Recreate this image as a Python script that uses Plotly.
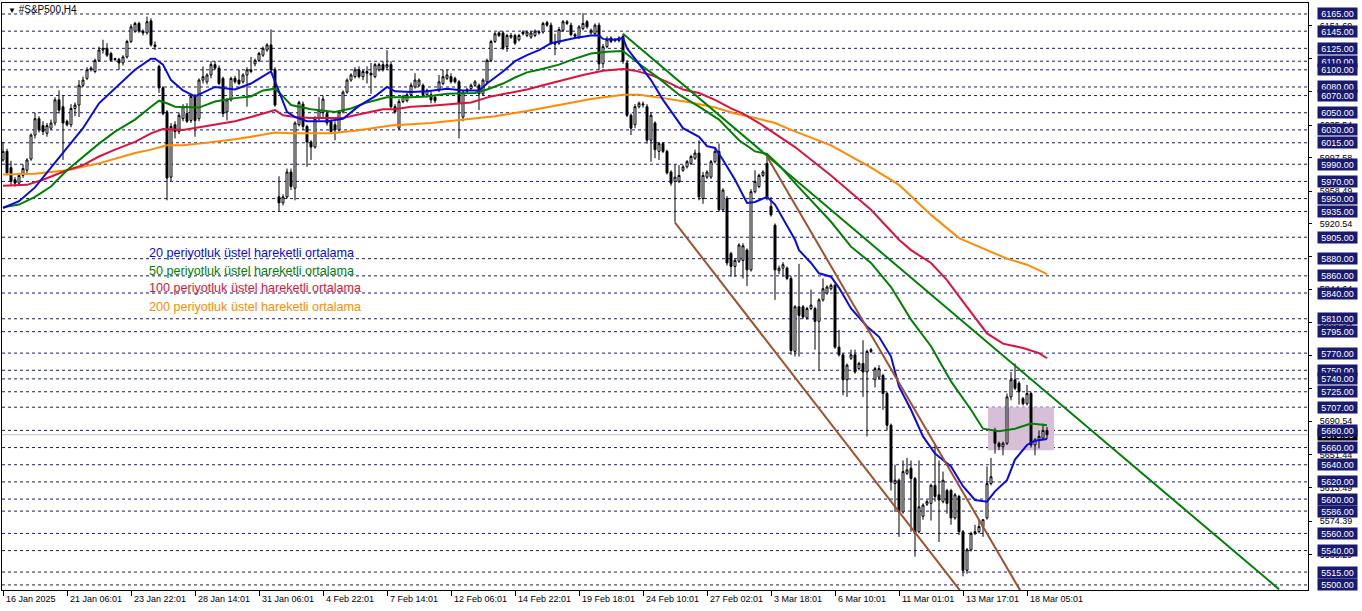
import plotly.graph_objects as go

# ---------------- data ----------------
opens = [5995,6005,5986,5972,5968,5977,5983,5996,6024,6043, 6035,6026,6032,6038,6065,6057,6040,6036,6055,6059,
         6082,6090,6100,6098,6111,6123,6125,6119,6113,6112, 6108,6115,6133,6145,6154,6145,6143,6157,6129,6104,
         6079,6051,5975,6036,6028,6043,6049,6041,6070,6043, 6088,6086,6094,6106,6102,6090,6051,6065,6090,6088,
         6086,6094,6098,6107,6111,6117,6123,6129,6100,5952, 5945,5952,5981,5962,6036,6060,6034,6016,6010,6043,
         6050,6049,6040,6036,6030,6051,6074,6088,6092,6100, 6092,6098,6096,6092,6100,6106,6103,6106,6057,6032,
         6063,6064,6071,6080,6082,6082,6071,6071,6068,6076, 6084,6090,6092,6090,6086,6045,6075,6078,6082,6082,
         6072,6086,6111,6133,6143,6143,6127,6138,6140,6135, 6144,6140,6138,6140,6143,6144,6155,6152,6131,6131,
         6146,6154,6152,6141,6138,6148,6156,6143,6142,6152, 6107,6127,6137,6134,6134,6139,6108,6047,6036,6057,
         6059,6057,6018,6038,6005,6014,6005,5981,5970,5970, 5983,5987,5991,5997,6003,5950,5975,5975,5993,6005,
         5937,5950,5886,5871,5877,5878,5890,5867,5958,5964, 5977,5991,5941,5919,5866,5869,5869,5857,5772,5824,
         5824,5811,5822,5822,5807,5832,5840,5845,5849,5777, 5768,5739,5764,5768,5752,5758,5748,5772,5739,5742,
         5744,5723,5686,5618,5622,5585,5630,5636,5624,5562, 5580,5594,5595,5616,5605,5597,5610,5610,5578,5603,
         5562,5517,5541,5560,5562,5568,5578,5618,5680,5665, 5661,5665,5719,5739,5735,5717,5711,5723,5663,5669,
         5671,5680]
highs = [6016,6008,5994,5975,5980,5990,5997,6026,6050,6046, 6040,6038,6042,6068,6076,6070,6042,6060,6062,6088,
         6092,6103,6104,6113,6127,6135,6131,6121,6114,6114, 6117,6135,6153,6156,6156,6147,6162,6160,6133,6106,
         6081,6053,6038,6040,6050,6060,6061,6071,6072,6090, 6104,6096,6110,6110,6105,6092,6067,6092,6093,6100,
         6096,6103,6115,6113,6121,6127,6131,6147,6103,5976, 5955,5985,5985,6040,6064,6063,6036,6018,6046,6068,
         6070,6052,6042,6040,6053,6076,6090,6096,6103,6104, 6100,6104,6108,6108,6108,6110,6123,6110,6060,6066,
         6071,6073,6085,6096,6090,6084,6078,6075,6071,6094, 6100,6100,6096,6092,6088,6076,6079,6084,6088,6084,
         6090,6113,6135,6144,6145,6145,6142,6143,6142,6142, 6146,6146,6145,6147,6146,6156,6157,6155,6142,6150,
         6158,6158,6155,6143,6152,6166,6158,6148,6154,6155, 6130,6139,6139,6137,6139,6142,6111,6049,6060,6063,
         6063,6060,6050,6040,6016,6016,6007,5983,5990,5989, 5989,5995,6001,6007,6018,5981,5983,5995,6009,6014,
         5962,5953,5888,5880,5898,5898,5892,5961,5983,5979, 5983,5999,5952,5921,5872,5876,5871,5860,5826,5874,
         5826,5824,5844,5824,5834,5857,5849,5851,5851,5797, 5770,5758,5774,5774,5760,5785,5774,5776,5754,5756,
         5746,5725,5688,5640,5624,5645,5648,5645,5626,5645, 5595,5599,5618,5663,5645,5632,5612,5612,5607,5605,
         5564,5543,5562,5570,5576,5576,5638,5648,5683,5667, 5667,5723,5748,5758,5737,5719,5733,5725,5671,5680,
         5688,5684]
lows = [5993,5977,5966,5964,5965,5974,5980,5994,6020,6027, 6024,6022,6030,6035,6049,5995,6034,6033,6046,6045,
        6080,6088,6098,6096,6109,6119,6115,6110,6110,6100, 6105,6113,6131,6143,6143,6140,6141,6127,6123,6073,
        6047,5948,5970,6020,6025,6040,6038,6038,6022,6040, 6084,6083,6090,6100,6082,6045,6041,6063,6084,6082,
        6084,6057,6096,6104,6109,6115,6121,6098,6057,5935, 5942,5950,5960,5948,6034,6030,5987,5995,6008,6041,
        6043,6035,6026,6018,6028,6049,6072,6086,6090,6090, 6088,6084,6072,6090,6098,6098,6100,6055,6049,6030,
        6061,6062,6069,6078,6080,6069,6068,6061,6061,6074, 6082,6088,6084,6084,6020,6040,6072,6076,6080,6053,
        6070,6084,6109,6131,6138,6123,6121,6136,6129,6133, 6140,6138,6136,6138,6141,6142,6150,6129,6117,6129,
        6144,6152,6139,6137,6136,6146,6148,6141,6140,6100, 6102,6125,6131,6132,6132,6107,6045,6024,6032,6055,
        6056,6014,5993,5997,5995,6003,5978,5965,5922,5968, 5981,5985,5989,5995,5948,5944,5973,5973,5991,5935,
        5935,5872,5859,5859,5875,5857,5848,5865,5956,5962, 5975,5948,5929,5832,5862,5859,5855,5768,5766,5766,
        5810,5809,5820,5774,5750,5830,5838,5843,5775,5766, 5721,5719,5762,5746,5750,5719,5673,5770,5730,5739,
        5704,5680,5610,5585,5556,5583,5628,5562,5533,5560, 5576,5592,5575,5597,5550,5595,5583,5570,5576,5558,
        5510,5513,5539,5558,5560,5556,5576,5616,5653,5657, 5651,5663,5715,5727,5710,5709,5709,5660,5651,5659,
        5669,5670]
closes = [6005,5980,5970,5968,5977,5985,5995,6024,6043,6030, 6028,6035,6038,6065,6053,6038,6036,6055,6059,6082,
          6088,6100,6102,6111,6123,6125,6117,6111,6112,6108, 6115,6133,6150,6154,6145,6143,6156,6129,6127,6079,
          6049,5974,6034,6028,6047,6057,6040,6069,6041,6088, 6092,6094,6106,6102,6084,6049,6065,6090,6086,6084,
          6094,6100,6100,6111,6119,6125,6129,6100,6059,5945, 5952,5981,5964,6038,6062,6034,6016,6010,6043,6053,
          6066,6038,6028,6030,6051,6074,6088,6094,6100,6092, 6098,6096,6094,6106,6106,6100,6106,6057,6051,6063,
          6069,6071,6082,6088,6088,6071,6076,6065,6064,6086, 6092,6094,6086,6086,6061,6074,6077,6082,6086,6072,
          6088,6111,6133,6142,6140,6125,6140,6140,6131,6140, 6142,6144,6143,6145,6144,6154,6152,6131,6130,6147,
          6156,6156,6141,6139,6150,6154,6150,6146,6152,6107, 6127,6135,6133,6135,6137,6110,6047,6032,6057,6061,
          6060,6018,6047,6007,6014,6005,5980,5968,5975,5977, 5987,5993,5999,6003,5952,5977,5981,5993,6005,5937,
          5960,5875,5871,5878,5896,5895,5867,5958,5970,5977, 5981,5952,5931,5867,5869,5873,5857,5773,5824,5814,
          5812,5822,5826,5807,5832,5845,5847,5849,5777,5768, 5739,5756,5768,5748,5758,5748,5772,5774,5752,5752,
          5723,5686,5620,5622,5585,5632,5634,5624,5560,5591, 5593,5597,5616,5603,5599,5622,5595,5578,5605,5562,
          5517,5541,5560,5562,5568,5576,5618,5626,5665,5661, 5665,5719,5739,5729,5725,5711,5723,5663,5669,5673,
          5680,5675]
bars = list(range(len(closes)))

# moving averages (bar index, value)
ema20_x = [0,4,8,12,16,20,24,28,33,37,38,40,42,45,48,53,58,62,65,67,69,71,73,76,81,85,89,93,96,98,102,106,111,115,119,
           121,125,128,131,134,137,139,143,147,149,150,153,155,156,159,162,165,168,170,174,176,178,180,183,186,188,191,
           193,195,198,199,202,204,207,209,212,216,219,222,224,227,230,233,237,240,243,246,248,251,253,256,258,261]
ema20_y = [5939,5947,5963,5986,6010,6032,6061,6078,6100,6113,6113,6106,6088,6076,6069,6080,6077,6084,6092,6098,6075,6051,
           6045,6040,6040,6043,6058,6069,6080,6075,6074,6075,6078,6076,6076,6084,6098,6110,6117,6123,6131,6133,6137,6140,
           6140,6136,6135,6137,6125,6107,6088,6065,6045,6032,6022,6011,6009,5995,5972,5945,5946,5952,5943,5927,5902,5890,
           5875,5863,5859,5846,5822,5801,5789,5766,5731,5704,5673,5653,5638,5615,5599,5597,5609,5622,5646,5663,5668,5670]
ema50_x = [0,4,8,12,16,20,24,28,33,37,39,41,43,49,53,58,62,65,68,70,72,77,83,87,91,96,102,106,111,118,121,125,128,131,
           134,139,143,147,151,155,159,164,169,174,179,184,188,191,194,198,202,207,212,217,222,227,232,237,242,245,249,
           253,257,261]
ema50_y = [5940,5943,5952,5964,5983,5999,6014,6028,6042,6057,6064,6061,6057,6056,6063,6067,6069,6076,6078,6069,6059,
           6054,6051,6055,6062,6068,6068,6069,6072,6073,6077,6084,6091,6097,6100,6106,6113,6119,6121,6122,6107,6090,
           6071,6057,6042,6018,6005,6002,5989,5968,5948,5923,5894,5875,5847,5809,5778,5737,5704,5682,5679,5682,5688,5686]
ema100_x = [0,6,10,16,20,24,28,33,37,40,45,49,53,58,62,66,68,70,73,77,85,90,95,98,102,107,112,117,122,127,131,135,140,
            145,150,155,158,162,166,170,174,178,182,185,189,193,198,207,217,224,227,232,236,239,243,246,250,255,259,261]
ema100_y = [5965,5966,5972,5983,5989,5999,6007,6016,6026,6031,6030,6033,6036,6040,6045,6050,6053,6047,6045,6044,6044,
            6049,6054,6054,6057,6058,6060,6062,6069,6073,6077,6082,6088,6094,6099,6101,6099,6094,6086,6077,6073,6065,
            6055,6049,6038,6026,6010,5977,5937,5902,5890,5875,5855,5836,5812,5793,5781,5776,5770,5764]
ema200_x = [0,8,16,24,33,37,41,45,49,53,58,62,66,68,72,82,88,97,107,115,123,131,139,147,155,159,165,172,178,183,188,
            193,197,207,217,224,232,239,246,251,256,261]
ema200_y = [5978,5979,5983,5991,6003,6007,6012,6012,6014,6016,6019,6022,6025,6027,6026,6026,6029,6035,6038,6042,6046,
            6052,6059,6066,6071,6071,6067,6062,6056,6049,6044,6038,6030,6012,5986,5966,5931,5904,5890,5880,5873,5862]

# trend lines (anchor bar index, price)
trend_green_x, trend_green_y = [155, 319], [6142, 5495]
trend_brown1_x, trend_brown1_y = [168, 241], [5922, 5483]
trend_brown2_x, trend_brown2_y = [191, 255], [5999, 5488]
# rectangle
rect_x, rect_y = [246.25, 262.75], [5657, 5707]
bid_price = 5675.00

# horizontal level lines with price labels
levels = [6165, 6145, 6125, 6110, 6100, 6080, 6070, 6050, 6030, 6015, 5990, 5970, 5950, 5935, 5905, 5880,
          5860, 5840, 5810, 5795, 5770, 5750, 5740, 5725, 5707, 5680, 5660, 5640, 5620, 5600, 5586, 5560,
          5540, 5515, 5500]
axis_ticks = [5535.29, 5574.39, 5613.49, 5651.44, 5690.54, 5728.49, 5767.59, 5805.54, 5844.64, 5882.59,
              5920.54, 5958.49, 5997.58, 6035.54, 6074.64, 6112.59, 6151.69]
time_tick_bars = [0, 16, 32, 48, 64, 80, 96, 112, 128, 144, 160, 176, 192, 208, 224, 240, 256]
time_tick_labels = ["16 Jan 2025", "21 Jan 06:01", "23 Jan 22:01", "28 Jan 14:01", "31 Jan 06:01",
                    "4 Feb 22:01", "7 Feb 14:01", "12 Feb 06:01", "14 Feb 22:01", "19 Feb 18:01",
                    "24 Feb 10:01", "27 Feb 02:01", "3 Mar 18:01", "6 Mar 10:01", "11 Mar 01:01",
                    "13 Mar 17:01", "18 Mar 05:01"]
legend_texts = ["20 periyotluk üstel hareketli ortalama", "50 periyotluk üstel hareketli ortalama",
                "100 periyotluk üstel hareketli ortalama", "200 periyotluk üstel hareketli ortalama"]

# ---------------- styles ----------------
NAVY = "#191970"
C20, C50, C100, C200 = "#0a0ae6", "#008000", "#dc143c", "#ff8c00"
BROWN = "#a0522d"
FONT = "Liberation Sans"

fig = go.Figure()

fig.add_trace(go.Candlestick(
    x=bars, open=opens, high=highs, low=lows, close=closes,
    increasing=dict(line=dict(color="black", width=1), fillcolor="white"),
    decreasing=dict(line=dict(color="black", width=1), fillcolor="black"),
    whiskerwidth=0, hoverinfo="skip", showlegend=False))

for xs, ys, col in [(ema200_x, ema200_y, C200), (ema100_x, ema100_y, C100),
                    (ema50_x, ema50_y, C50), (ema20_x, ema20_y, C20)]:
    fig.add_trace(go.Scatter(x=xs, y=ys, mode="lines", line=dict(color=col, width=2),
                             hoverinfo="skip", showlegend=False))

for xs, ys, col in [(trend_green_x, trend_green_y, C50), (trend_brown1_x, trend_brown1_y, BROWN),
                    (trend_brown2_x, trend_brown2_y, BROWN)]:
    fig.add_trace(go.Scatter(x=xs, y=ys, mode="lines", line=dict(color=col, width=2),
                             hoverinfo="skip", showlegend=False))

shapes = [dict(type="rect", xref="x", yref="y", x0=rect_x[0], x1=rect_x[1], y0=rect_y[0], y1=rect_y[1],
               fillcolor="#d8bfd8", line=dict(width=0), layer="below")]
for lv in levels:
    shapes.append(dict(type="line", xref="paper", yref="y", x0=0, x1=1, y0=lv, y1=lv,
                       line=dict(color=NAVY, width=1, dash="3px,3px"), layer="below"))
shapes.append(dict(type="line", xref="paper", yref="y", x0=0, x1=1, y0=bid_price, y1=bid_price,
                   line=dict(color="#c0c0c0", width=1), layer="below"))

annotations = []
# current price label (under the level labels)
annotations.append(dict(xref="paper", yref="y", x=1, y=bid_price, xanchor="left", yanchor="middle", xshift=9,
                        text=f"{bid_price:.2f}", showarrow=False, bgcolor="black",
                        font=dict(family=FONT, size=9, color="white"), width=37, height=9, borderpad=1))
for lv in levels:
    annotations.append(dict(xref="paper", yref="y", x=1, y=lv, xanchor="left", yanchor="middle", xshift=9,
                            text=f"{lv:.2f}", showarrow=False, bgcolor=NAVY,
                            font=dict(family=FONT, size=9, color="white"), width=37, height=9, borderpad=1))
for tb, tl in zip(time_tick_bars, time_tick_labels):
    annotations.append(dict(xref="x", yref="paper", x=tb, y=0, xanchor="left", yanchor="top", xshift=1, yshift=-2,
                            text=tl, showarrow=False, font=dict(family=FONT, size=9, color="black")))
for k, (txt, col) in enumerate(zip(legend_texts, [C20, C50, C100, C200])):
    annotations.append(dict(xref="paper", yref="paper", x=0.111, y=[0.574, 0.5434, 0.5145, 0.4821][k],
                            xanchor="left", yanchor="middle", text=txt, showarrow=False,
                            font=dict(family=FONT, size=12.6, color=col)))
annotations.append(dict(xref="paper", yref="paper", x=0.003, y=0.989, xanchor="left", yanchor="middle",
                        text="<span style='font-size:8px'>▼</span> #S&P500,H4", showarrow=False,
                        font=dict(family=FONT, size=10, color="black")))

fig.update_layout(
    width=1362, height=611, margin=dict(l=2, r=54, t=3, b=21),
    paper_bgcolor="white", plot_bgcolor="white",
    shapes=shapes, annotations=annotations, showlegend=False,
    xaxis=dict(range=[-0.25, 326.25], showgrid=False, zeroline=False, rangeslider=dict(visible=False),
               showline=True, linecolor="black", linewidth=1, mirror=True,
               tickmode="array", tickvals=time_tick_bars, showticklabels=False,
               ticks="outside", ticklen=5, tickcolor="black", fixedrange=True),
    yaxis=dict(range=[5494.1, 6177.8], side="right", showgrid=False, zeroline=False,
               showline=True, linecolor="black", linewidth=1, mirror=True,
               tickmode="array", tickvals=axis_ticks, ticktext=[f"{t:.2f}" for t in axis_ticks],
               ticks="outside", ticklen=3, tickcolor="black", ticklabelstandoff=6,
               tickfont=dict(family=FONT, size=9, color="black"), fixedrange=True),
)

fig.write_html("out.html", config={"displayModeBar": False},
               post_script="document.body.style.margin='0';document.body.style.overflow='hidden';")
